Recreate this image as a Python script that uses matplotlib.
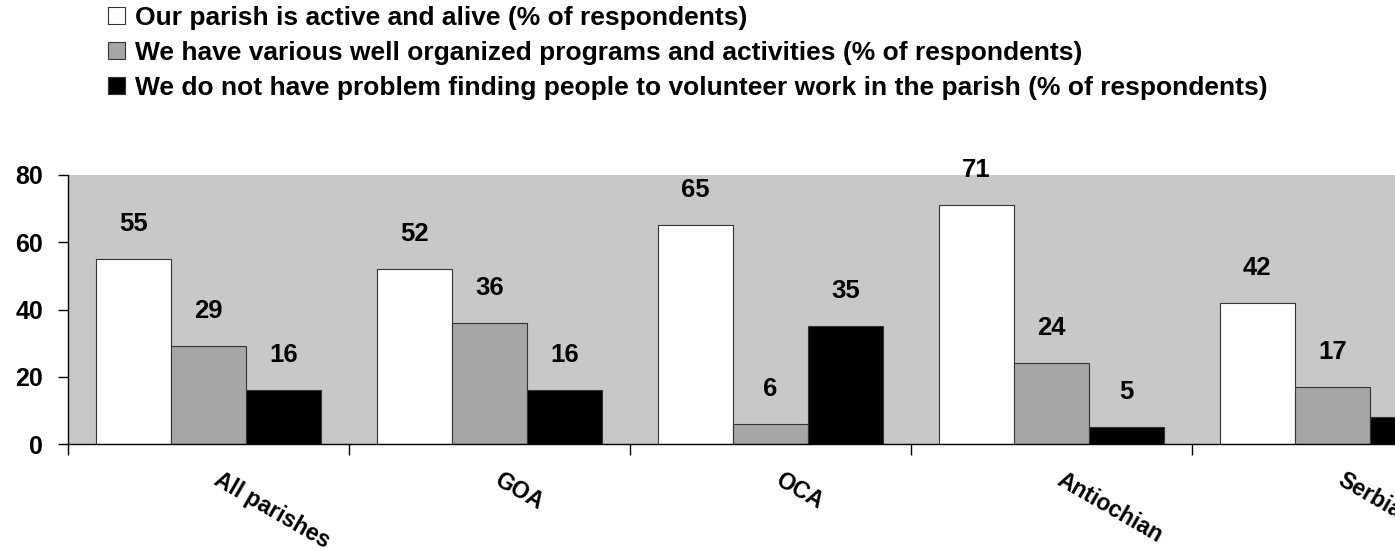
import numpy as np
import matplotlib.pyplot as plt
import matplotlib.transforms as mtransforms

plt.rcParams['font.family'] = ['Liberation Sans', 'DejaVu Sans']
plt.rcParams['font.weight'] = 'bold'

categories = ['All parishes', 'GOA', 'OCA', 'Antiochian', 'Serbian']
active = [55, 52, 65, 71, 42]
programs = [29, 36, 6, 24, 17]
volunteers = [16, 16, 35, 5, 8]
series_names = ['Our parish is active and alive (% of respondents)',
                'We have various well organized programs and activities (% of respondents)',
                'We do not have problem finding people to volunteer work in the parish (% of respondents)']
yticks = [0, 20, 40, 60, 80]

colors = ['#FFFFFF', '#A6A6A6', '#000000']
series = [active, programs, volunteers]

fig = plt.figure(figsize=(13.95, 5.5), dpi=100)
# plot area runs past the right edge, like the original cropped picture
ax = fig.add_axes([68 / 1395, 106 / 550, 1405 / 1395, 269 / 550])
ax.set_facecolor('#C8C8C8')

x = np.arange(len(categories))
w = 0.268
handles = []
for i, (vals, col) in enumerate(zip(series, colors)):
    pos = x + (i - 1) * w
    b = ax.bar(pos, vals, w, color=col, edgecolor='#333333', linewidth=0.8,
               label=series_names[i])
    handles.append(b)
    for px, v in zip(pos, vals):
        ax.annotate(str(v), (px, v), xytext=(0, 35), textcoords='offset pixels',
                    ha='center', va='center', fontsize=18.5, fontweight='bold')

ax.set_xlim(-0.5, len(categories) - 0.5)
ax.set_ylim(0, 80)
ax.set_yticks(yticks)
ax.tick_params(axis='y', labelsize=18, length=7, width=1, pad=11)
ax.set_xticks(np.arange(len(categories) + 1) - 0.5)
ax.set_xticklabels([])
ax.tick_params(axis='x', length=8, width=1, direction='out')
for s in ['top', 'right']:
    ax.spines[s].set_visible(False)
ax.spines['left'].set_linewidth(1)
ax.spines['bottom'].set_linewidth(1)

trans = mtransforms.blended_transform_factory(ax.transData, ax.transAxes)
for i, c in enumerate(categories):
    t = ax.text(i + 0.045, -0.09, c, transform=trans, rotation=-30,
                rotation_mode='anchor', ha='left', va='top',
                fontsize=16.5, fontweight='bold')
    t.set_clip_on(False)

fig.legend(handles=handles, loc='upper left', bbox_to_anchor=(108 / 1395, 1 - 6 / 550),
           frameon=False, fontsize=19, handlelength=0.65, handleheight=0.6,
           handletextpad=0.38, labelspacing=0.42, borderpad=0, borderaxespad=0)

fig.savefig('out.png', dpi=100)
